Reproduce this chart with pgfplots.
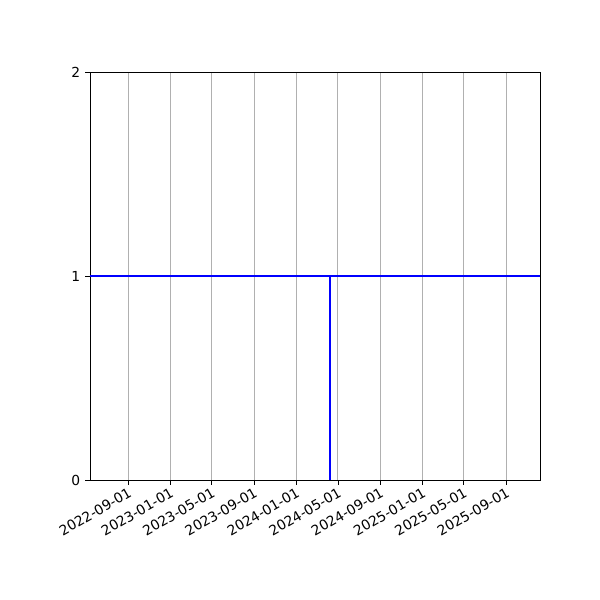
\documentclass[border=0pt]{standalone}
\usepackage{fontspec}
\setmainfont{DejaVu Sans}
\usepackage{pgfplots}
\pgfplotsset{compat=1.18}
\definecolor{gridgray}{HTML}{B0B0B0}
\begin{document}
\fontsize{10}{12}\selectfont
\begin{tikzpicture}[line width=0.8pt]
% page frame: 6in x 6in, axis box at (0.9in,1.2in)
\path (-0.9in,-1.2in) rectangle (5.1in,4.8in);
\begin{axis}[
  at={(0,0)}, anchor=south west,
  scale only axis,
  width=4.5in, height=4.08in,
  xmin=-110, xmax=1194.6,
  ymin=0, ymax=2,
  % days since 2022-09-01
  xtick={0,122,242,365,487,608,731,853,973,1096},
  xticklabels={2022-09-01,2023-01-01,2023-05-01,2023-09-01,2024-01-01,2024-05-01,2024-09-01,2025-01-01,2025-05-01,2025-09-01},
  xticklabel style={rotate=30, anchor=north east, inner sep=1pt},
  ytick={0,1,2},
  /pgf/number format/assume math mode=true,
  xtick pos=bottom, ytick pos=left,
  tick align=outside,
  major tick length=3.5pt,
  xmajorgrids,
  grid style={gridgray},
  tick style={black},
  tick label style={font=\fontsize{10}{12}\selectfont},
]
\addplot[blue, mark=none, line width=1.5pt] coordinates {(-110,1) (1194.6,1)};
\addplot[blue, mark=none, line width=1.5pt] coordinates {(586,0) (586,1)};
\end{axis}
\end{tikzpicture}
\end{document}
